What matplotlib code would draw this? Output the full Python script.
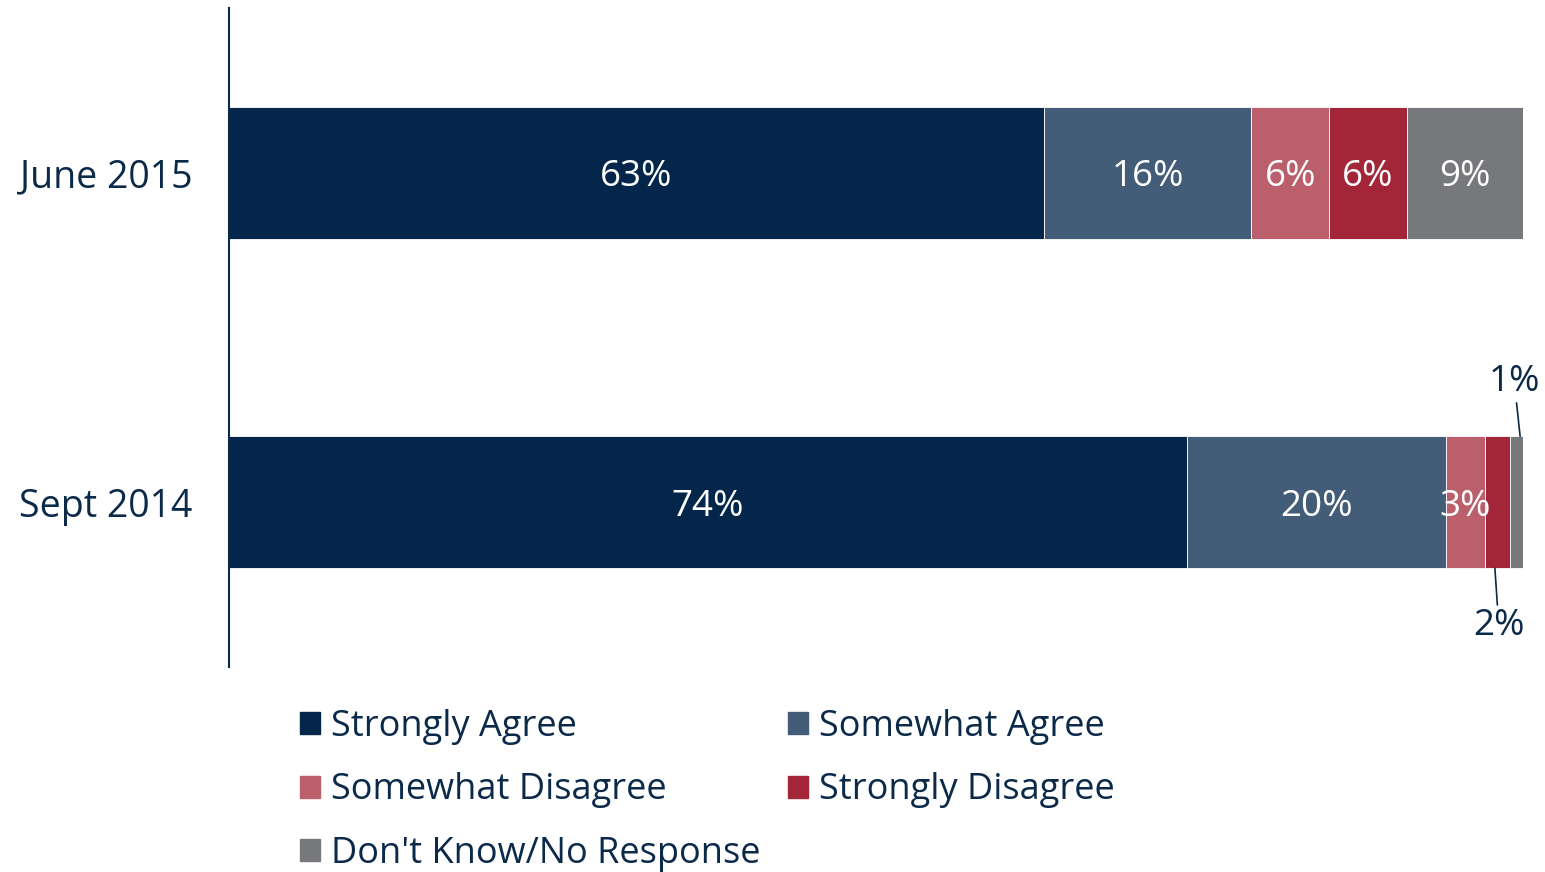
import matplotlib.pyplot as plt
from matplotlib.patches import Patch

plt.rcParams["font.family"] = ["Open Sans", "DejaVu Sans"]

# data
periods = ["Sept 2014", "June 2015"]
categories = ["Strongly Agree", "Somewhat Agree", "Somewhat Disagree",
              "Strongly Disagree", "Don't Know/No Response"]
sept_2014 = [74, 20, 3, 2, 1]
june_2015 = [63, 16, 6, 6, 9]
colors = ["#03264a", "#435c77", "#ba5f6b", "#a32638", "#77787c"]
text_color = "#0b2a4a"

fig = plt.figure(figsize=(15.45, 8.72), dpi=100)
ax = fig.add_axes([0.148, 0.235, 0.838, 0.756])

rows = [sept_2014, june_2015]
for y, vals in enumerate(rows):
    left = 0
    for i, v in enumerate(vals):
        ax.barh(y, v, left=left, height=0.4, color=colors[i],
                edgecolor="white", linewidth=0.6)
        if v >= 3:
            ax.text(left + v / 2, y, f"{v}%", ha="center",
                    va="center_baseline", color="white", fontsize=26.5)
        left += v

# small segments labelled outside with leader lines
ax.annotate("1%", xy=(99.75, 0.2), xytext=(99.3, 0.31), fontsize=26.5,
            color=text_color, ha="center", va="bottom",
            arrowprops=dict(arrowstyle="-", color=text_color, lw=1.2,
                            shrinkA=0, shrinkB=0))
ax.annotate("2%", xy=(97.8, -0.2), xytext=(98.1, -0.32), fontsize=26.5,
            color=text_color, ha="center", va="top",
            arrowprops=dict(arrowstyle="-", color=text_color, lw=1.2,
                            shrinkA=0, shrinkB=0))

ax.set_xlim(0, 100)
ax.set_ylim(-0.5, 1.5)
ax.set_yticks(range(len(periods)))
ax.set_yticklabels(periods, fontsize=27, color=text_color)
ax.tick_params(axis="y", length=0, pad=26)
ax.set_xticks([])
for side in ["top", "right", "bottom"]:
    ax.spines[side].set_visible(False)
ax.spines["left"].set_color(text_color)
ax.spines["left"].set_linewidth(1.5)

order = [0, 2, 4, 1, 3]
handles = [Patch(color=colors[i]) for i in order]
labels = [categories[i] for i in order]
fig.legend(handles, labels, loc="upper left", bbox_to_anchor=(0.194, 0.187),
           ncol=2, frameon=False, fontsize=26, labelcolor=text_color,
           handlelength=0.57, handleheight=0.57, handletextpad=0.3,
           columnspacing=0.75, labelspacing=0.76, borderaxespad=0,
           borderpad=0)

fig.savefig("out.png", dpi=100)
